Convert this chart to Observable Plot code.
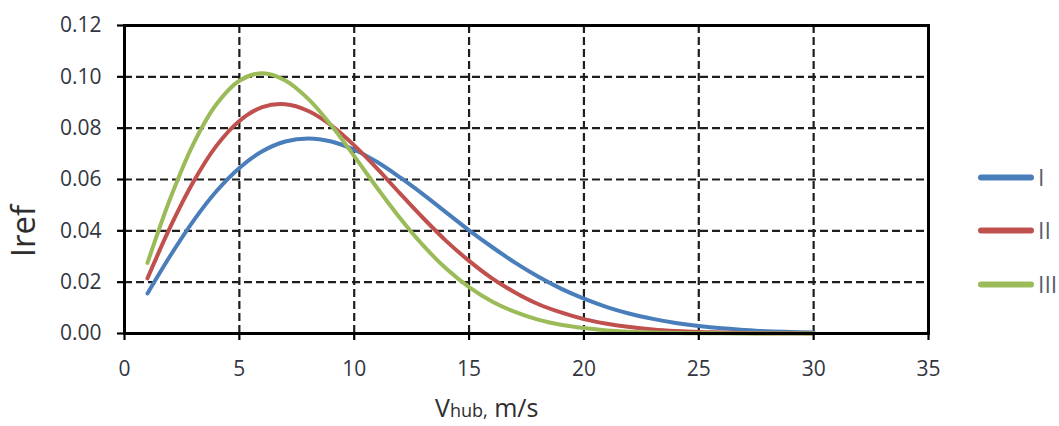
<!DOCTYPE html>
<html>
<head>
<meta charset="utf-8">
<script src="https://cdn.jsdelivr.net/npm/d3@7"></script>
<script src="https://cdn.jsdelivr.net/npm/@observablehq/plot@0.6"></script>
<style>
  html, body { margin: 0; padding: 0; background: #fff; }
  #wrap { position: relative; width: 1059px; height: 426px; font-family: "Open Sans", sans-serif; }
  #wrap svg { position: absolute; left: 0; top: 0; }
  g[aria-label="y-axis tick label"], g[aria-label="x-axis tick label"] { fill: #33363f; }
  .ylab { position: absolute; left: 22px; top: 231px; transform: translate(-50%, -50%) rotate(-90deg); font-size: 33px; line-height: 1; color: #2e2e2e; white-space: nowrap; }
  .xlab { position: absolute; left: 435px; top: 395px; font-size: 25px; line-height: 1; color: #2e2e2e; white-space: nowrap; }
  .xlab .sub { font-size: 18px; }
  .legend { position: absolute; left: 978px; top: 0; }
  .item { position: absolute; left: 0; display: flex; align-items: center; white-space: nowrap; transform: translateY(-50%); }
  .swatch { width: 56px; height: 6px; border-radius: 3px; }
  .lbl { margin-left: 4px; font-size: 23px; line-height: 1; color: #5a6070; }
</style>
</head>
<body>
<div id="wrap"></div>
<script>
// Wind speed, m/s
const speeds = [1,2,3,4,5,6,7,8,9,10,11,12,13,14,15,16,17,18,19,20,21,22,23,24,25,26,27,28,29,30];
// Series I
const seriesI = [0.0156,0.0304,0.0439,0.0554,0.0645,0.0710,0.0748,0.0760,0.0748,0.0716,0.0668,0.0608,0.0542,0.0472,0.0402,0.0337,0.0276,0.0222,0.0175,0.0136,0.0103,0.0077,0.0057,0.0041,0.0029,0.0020,0.0014,0.0009,0.0006,0.0004];
// Series II
const seriesII = [0.0215,0.0416,0.0591,0.0731,0.0828,0.0882,0.0893,0.0867,0.0811,0.0733,0.0642,0.0545,0.0450,0.0361,0.0283,0.0215,0.0160,0.0115,0.0082,0.0056,0.0038,0.0025,0.0016,0.0010,0.0006,0.0004,0.0002,0.0001,0.0001,0.0000];
// Series III
const seriesIII = [0.0275,0.0528,0.0739,0.0893,0.0985,0.1014,0.0986,0.0914,0.0811,0.0691,0.0567,0.0449,0.0343,0.0253,0.0181,0.0125,0.0084,0.0054,0.0034,0.0021,0.0012,0.0007,0.0004,0.0002,0.0001,0.0001,0.0000,0.0000,0.0000,0.0000];
const seriesNames = ["I", "II", "III"];
const seriesColors = ["#4a7ebb", "#c0504d", "#9bbb59"];
const xTicks = [0,5,10,15,20,25,30,35];
const yTicks = [0,0.02,0.04,0.06,0.08,0.10,0.12];
const xLabelMain = "V";
const xLabelSub = "hub,";
const xLabelUnit = " m/s";
const yLabel = "Iref";

const allSeries = [seriesI, seriesII, seriesIII];
const data = allSeries.flatMap((vals, i) => vals.map((v, j) => ({x: speeds[j], y: v, s: seriesNames[i]})));

const chart = Plot.plot({
  width: 1059,
  height: 426,
  marginLeft: 124,
  marginRight: 131,
  marginTop: 25,
  marginBottom: 93,
  style: { fontFamily: "Open Sans, sans-serif", fontSize: "16px", color: "black", background: "white" },
  x: { domain: [0, 35] },
  y: { domain: [0, 0.12] },
  color: { domain: seriesNames, range: seriesColors },
  marks: [
    Plot.gridX(xTicks.slice(1, -1), { stroke: "#1e1e1e", strokeOpacity: 1, strokeWidth: 2.2, strokeDasharray: "8,4" }),
    Plot.gridY(yTicks.slice(1, -1), { stroke: "#1e1e1e", strokeOpacity: 1, strokeWidth: 2.2, strokeDasharray: "8,4" }),
    Plot.line(data, { x: "x", y: "y", z: "s", stroke: "s", strokeWidth: 4, curve: "catmull-rom" }),
    Plot.frame({ stroke: "black", strokeWidth: 3 }),
    Plot.axisX(xTicks, { tickSize: 7, tickPadding: 21, fontSize: 21, label: null, strokeWidth: 2.2 }),
    Plot.axisY(yTicks, { tickSize: 7, tickPadding: 16, fontSize: 21, label: null, tickFormat: d3.format(".2f"), strokeWidth: 2.2 })
  ]
});

const wrap = document.getElementById("wrap");
wrap.appendChild(chart);

const yl = document.createElement("div");
yl.className = "ylab";
yl.textContent = yLabel;
wrap.appendChild(yl);

const xl = document.createElement("div");
xl.className = "xlab";
xl.innerHTML = xLabelMain + '<span class="sub">' + xLabelSub + "</span>" + xLabelUnit;
wrap.appendChild(xl);

const leg = document.createElement("div");
leg.className = "legend";
const legendY = [177, 230, 284];
seriesNames.forEach((n, i) => {
  const it = document.createElement("div");
  it.className = "item";
  it.style.top = legendY[i] + "px";
  it.innerHTML = `<div class="swatch" style="background:${seriesColors[i]}"></div><span class="lbl">${n}</span>`;
  leg.appendChild(it);
});
wrap.appendChild(leg);
</script>
</body>
</html>
